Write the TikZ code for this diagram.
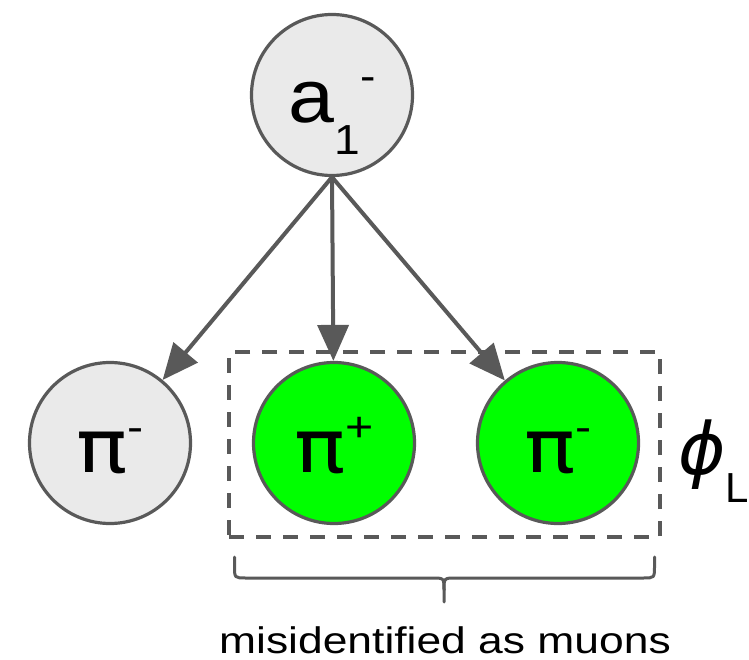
\documentclass[tikz,border=0pt]{standalone}
\usepackage{fontspec}
\setmainfont{Liberation Sans}
\newfontfamily\dejavu{DejaVu Sans}
\usepackage{graphicx}
\usetikzlibrary{arrows.meta}
\definecolor{edgegray}{HTML}{595959}
\definecolor{fillgray}{HTML}{EAEAEA}
\definecolor{brightgreen}{HTML}{00FF00}
\newcommand{\pifont}{\dejavu\fontsize{74}{74}\selectfont}
\newcommand{\afont}{\fontsize{75}{75}\selectfont}
\newcommand{\supfont}{\fontsize{42}{42}\selectfont}
\newcommand{\piletter}[1]{\scalebox{1.15}[1]{{\pifont π}\raisebox{31pt}{\supfont #1}}}
\begin{document}
\begin{tikzpicture}[x=1pt,y=-1pt,
  particle/.style={circle, draw=edgegray, line width=3.2pt, minimum size=161pt, inner sep=0pt, text height=58pt, text depth=0pt},
  grayp/.style={particle, fill=fillgray},
  greenp/.style={particle, fill=brightgreen},
  arr/.style={draw=edgegray, line width=4pt, -{Triangle[length=36pt,width=31pt]}},
  dashbox/.style={draw=edgegray, line width=3.5pt, dash pattern=on 15pt off 12pt},
  bracestyle/.style={draw=edgegray, line width=3pt, line cap=round, line join=round}]
\fill[white] (0,0) rectangle (749,660);
\useasboundingbox (0,0) rectangle (749,660);

\node[grayp, text height=56pt] (a1) at (332,95) {\scalebox{1.1}[1]{\afont a\raisebox{-32pt}{\supfont 1}\raisebox{32pt}{\supfont -}}};
\node[grayp] (pl) at (110,443) {\piletter{-}};
\node[greenp] (pp) at (334,443) {\piletter{+}};
\node[greenp] (pr) at (558,443) {\piletter{-}};

\node[dashbox, minimum width=431pt, minimum height=185pt, inner sep=0pt] (box) at (444.5,444.5) {};

\draw[arr] (a1.south) -- (pl);
\draw[arr] (a1.south) -- (pp);
\draw[arr] (a1.south) -- (pr);

\draw[bracestyle] (234.5,557) -- (234.5,566) .. controls (234.5,578) .. (246,578) -- (432,578) .. controls (444,578) .. (444,590) -- (444,602);
\draw[bracestyle] (654.5,557) -- (654.5,566) .. controls (654.5,578) .. (643,578) -- (456,578) .. controls (444,578) .. (444,590);

\node[anchor=base, inner sep=0pt, font=\fontsize{37}{37}\selectfont] (mis) at (445,653) {\scalebox{1.2}[1]{misidentified as muons}};

\node[anchor=base west, inner sep=0pt] (phi) at (678,474) {{\dejavu\itshape\fontsize{72}{72}\selectfont ϕ}\raisebox{-28pt}{\fontsize{42}{42}\selectfont L}};
\end{tikzpicture}
\end{document}
